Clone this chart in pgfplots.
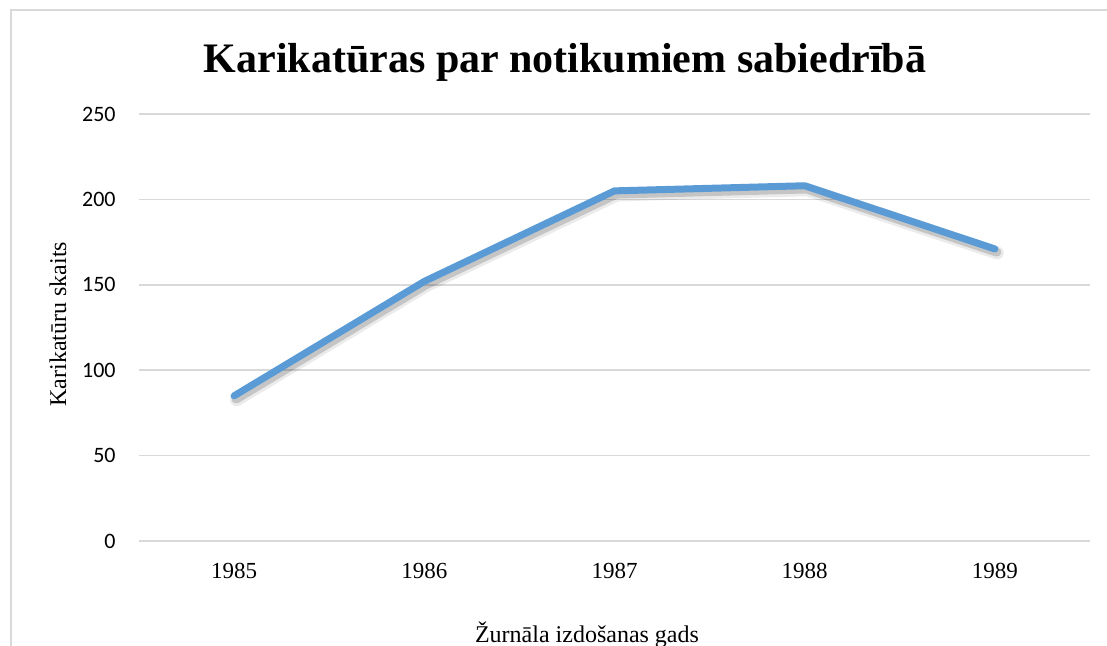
\documentclass[border=0pt]{standalone}
\usepackage{fontspec}
\setmainfont{Liberation Serif}
\newfontfamily\carlito{Carlito}
\usepackage{pgfplots}
\pgfplotsset{compat=1.18}
\definecolor{Line}{HTML}{5B9BD5}
\definecolor{Grid}{HTML}{D9D9D9}
\begin{document}
\begin{tikzpicture}
% outer chart frame (right and bottom edges fall outside the page)
\draw[Grid,line width=0.8pt] (5.5pt,-400pt) -- (5.5pt,-5pt) -- (600pt,-5pt);
\begin{axis}[at={(69.5pt,-270.5pt)},anchor=south west,
  scale only axis,width=475.5pt,height=213.5pt,
  xmin=-0.5,xmax=4.5,ymin=0,ymax=250,
  xtick={0,1,2,3,4},xticklabels={1985,1986,1987,1988,1989},
  ytick={0,50,100,150,200,250},
  /pgf/number format/assume math mode=true,
  axis line style={draw=none},major tick length=0pt,
  tick style={draw=none},
  ymajorgrids,grid style={draw=Grid,line width=0.75pt},
  yticklabel style={font=\carlito\fontsize{11}{13}\selectfont,
    anchor=east,inner sep=0pt,xshift=-11.5pt},
  xticklabel style={font=\fontsize{11.5}{13}\selectfont,
    anchor=base,inner sep=0pt,yshift=-18.5pt},
  clip=false]
  % soft shadow under the line
  \addplot[black,opacity=0.08,line width=6.5pt,line join=round,line cap=round,
    xshift=1.2pt,yshift=-2pt] coordinates {(0,85) (1,152) (2,205) (3,208) (4,171)};
  \addplot[black,opacity=0.16,line width=4.5pt,line join=round,line cap=round,
    xshift=1pt,yshift=-1.6pt] coordinates {(0,85) (1,152) (2,205) (3,208) (4,171)};
  \addplot[Line,line width=3.5pt,line join=round,line cap=round]
    coordinates {(0,85) (1,152) (2,205) (3,208) (4,171)};
\end{axis}
\node[anchor=base,font=\bfseries\fontsize{21}{25}\selectfont] at (282.5pt,-36pt)
  {Karikatūras par notikumiem sabiedrībā};
\node[rotate=90,font=\fontsize{12}{14}\selectfont] at (29pt,-162pt)
  {Karikatūru skaits};
\node[anchor=base,font=\fontsize{12}{14}\selectfont] at (293.5pt,-321pt)
  {Žurnāla izdošanas gads};
\pgfresetboundingbox
\useasboundingbox (0pt,0pt) rectangle (553.5pt,-322.5pt);
\end{tikzpicture}
\end{document}
